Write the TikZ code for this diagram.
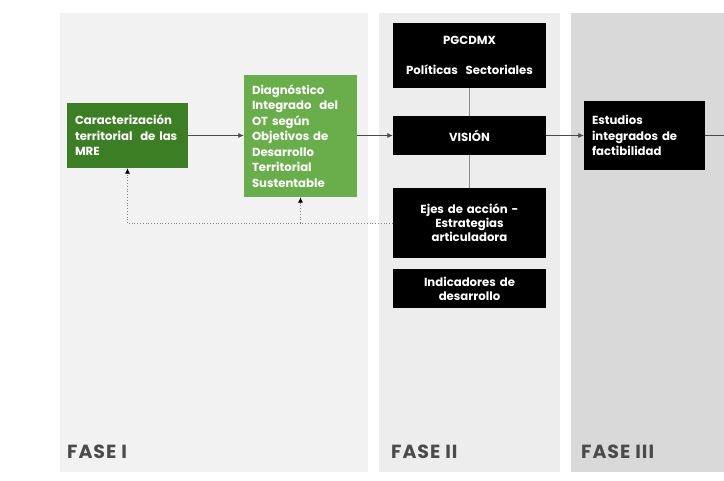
\documentclass[tikz,border=0pt]{standalone}
\usepackage{fontspec}
\setmainfont{Poppins}
\usetikzlibrary{arrows.meta}
\definecolor{pone}{HTML}{F2F2F2}
\definecolor{ptwo}{HTML}{EDEDED}
\definecolor{pthree}{HTML}{D9D9D9}
\definecolor{gdark}{HTML}{3C7E24}
\definecolor{glight}{HTML}{6AAE4B}
\definecolor{fasetext}{HTML}{4B4B4B}
\definecolor{linegray}{HTML}{4A4A4A}
\definecolor{vgray}{HTML}{8A8A8A}
\begin{document}
\begin{tikzpicture}[x=1pt,y=-1pt,
  box/.style={inner xsep=8pt, inner ysep=0pt, text=white, align=left,
    font=\bfseries\fontsize{11.7}{15.5}\selectfont},
  blackbox/.style={box, fill=black, align=center, inner xsep=4pt,
    minimum width=153pt, text width=145pt},
  arr/.style={draw=linegray, line width=0.8pt, -{Latex[length=5.5pt,width=5pt]}},
  plain/.style={draw=linegray, line width=0.8pt},
  vline/.style={draw=vgray, line width=0.8pt},
  dotline/.style={draw=gray, line width=0.8pt, dotted},
  dotarr/.style={dotline, -{Latex[length=5.5pt,width=5pt,fill=black,color=black]}},
  fase/.style={anchor=base west, inner sep=0pt, text=fasetext,
    font=\bfseries\fontsize{19}{21}\selectfont\addfontfeatures{LetterSpace=5}}]
\useasboundingbox (0,0) rectangle (724,480);
\fill[white] (0,0) rectangle (724,480);
\fill[pone] (60,13) rectangle (368,472);
\fill[ptwo] (379,13) rectangle (560,472);
\fill[pthree] (571,13) rectangle (724,472);

\node[box, fill=gdark, minimum width=121pt, minimum height=65pt, text width=105pt]
  (car) at (127.5,135.5) {Caracterización\\territorial~ de las\\MRE};
\node[box, fill=glight, minimum width=113pt, minimum height=122pt, text width=97pt]
  (diag) at (300.5,136) {Diagnóstico\\Integrado~ del\\OT según\\Objetivos de\\Desarrollo\\Territorial\\Sustentable};
\node[blackbox, minimum height=65pt] (pg) at (469.5,55.5)
  {PGCDMX\\[14pt]Políticas~ Sectoriales};
\node[blackbox, minimum height=39pt] (vision) at (469.5,135.5) {VISIÓN};
\node[blackbox, minimum height=70pt, font=\bfseries\fontsize{11.7}{14}\selectfont]
  (ejes) at (469.5,223) {Ejes de acción -\\Estrategias\\articuladora};
\node[blackbox, minimum height=39pt, font=\bfseries\fontsize{11.7}{14}\selectfont]
  (ind) at (469.5,288.5) {Indicadores de\\desarrollo};
\node[box, fill=black, minimum width=121pt, minimum height=69pt, text width=105pt]
  (est) at (644.5,135.5) {Estudios\\integrados de\\factibilidad};

\coordinate (edge) at (724,135.5);
\coordinate (dl) at (car.south |- ejes.west);
\coordinate (db) at (diag.south |- ejes.west);

\draw[arr] (car.east) -- (car.east -| diag.west);
\draw[arr] (diag.east |- vision.west) -- (vision.west);
\draw[arr] (vision.east) -- (vision.east -| est.west);
\draw[plain] (est.east) -- (edge);
\draw[vline] (pg.south) -- (vision.north);
\draw[vline] (vision.south) -- (ejes.north);

\draw[dotline] (ejes.west) -- (dl);
\draw[dotarr] (dl) -- (car.south);
\draw[dotarr] (db) -- (diag.south);

\node[fase] (f1) at (67,458) {FASE I};
\node[fase] (f2) at (391,458) {FASE II};
\node[fase] (f3) at (581,458) {FASE III};
\end{tikzpicture}
\end{document}
